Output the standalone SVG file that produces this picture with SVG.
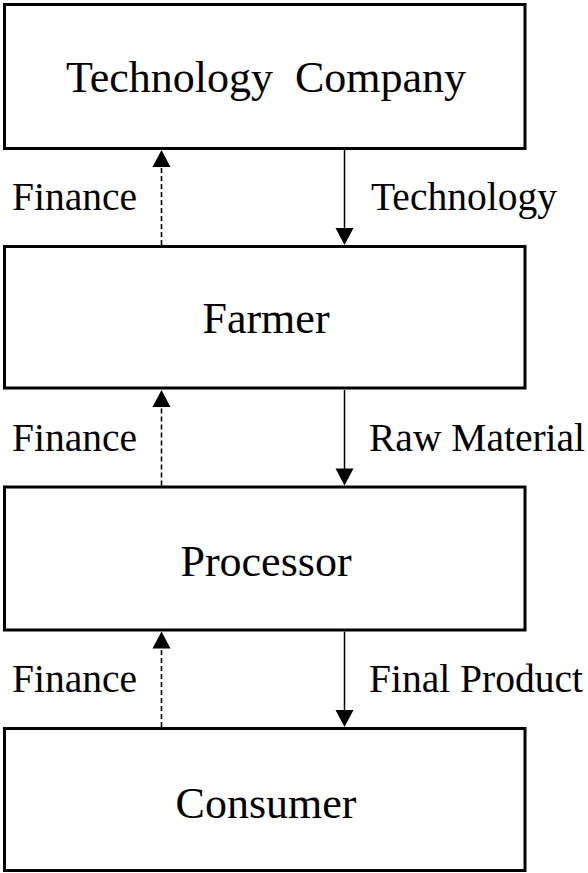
<svg xmlns="http://www.w3.org/2000/svg" width="588" height="873" viewBox="0 0 588 873">
<style>
.box{fill:#fff;stroke:#000;stroke-width:3}
.t{font-family:"Liberation Serif","Times New Roman",serif;fill:#000}
.big{font-size:44px;text-anchor:middle}
.lbl{font-size:39.5px}
.dash{stroke:#000;stroke-width:1.6;stroke-dasharray:5 3;fill:none}
.solid{stroke:#000;stroke-width:1.5;fill:none}
.head{fill:#000}
</style>
<rect width="588" height="873" fill="#fff"/>
<g id="technology-company">
<rect class="box" x="4.5" y="4.5" width="520.5" height="144"/>
<text class="t big" x="266" y="92" xml:space="preserve">Technology  Company</text>
</g>
<g id="farmer">
<rect class="box" x="4.5" y="246.5" width="520.5" height="141.5"/>
<text class="t big" x="266" y="333">Farmer</text>
</g>
<g id="processor">
<rect class="box" x="4.5" y="487" width="520.5" height="143"/>
<text class="t big" x="266" y="576">Processor</text>
</g>
<g id="consumer">
<rect class="box" x="4.5" y="728.5" width="520.5" height="142"/>
<text class="t big" x="266" y="818">Consumer</text>
</g>
<g id="connectors">
<line class="dash" x1="161.5" y1="245" x2="161.5" y2="166"/>
<polygon class="head" points="161.5,150 152.5,167 170.5,167"/>
<line class="solid" x1="344.5" y1="150" x2="344.5" y2="229"/>
<polygon class="head" points="344.5,245 335.5,228 353.5,228"/>
<line class="dash" x1="161.5" y1="485.5" x2="161.5" y2="406"/>
<polygon class="head" points="161.5,390 152.5,407 170.5,407"/>
<line class="solid" x1="344.5" y1="390" x2="344.5" y2="470"/>
<polygon class="head" points="344.5,485.5 335.5,468.5 353.5,468.5"/>
<line class="dash" x1="161.5" y1="727" x2="161.5" y2="647"/>
<polygon class="head" points="161.5,631.5 152.5,648.5 170.5,648.5"/>
<line class="solid" x1="344.5" y1="631.5" x2="344.5" y2="711"/>
<polygon class="head" points="344.5,727 335.5,710 353.5,710"/>
</g>
<g id="labels">
<text class="t lbl" x="12" y="210">Finance</text>
<text class="t lbl" x="371" y="210">Technology</text>
<text class="t lbl" x="12" y="451">Finance</text>
<text class="t lbl" x="369" y="451">Raw Material</text>
<text class="t lbl" x="12" y="692">Finance</text>
<text class="t lbl" x="369" y="692">Final Product</text>
</g>
</svg>
